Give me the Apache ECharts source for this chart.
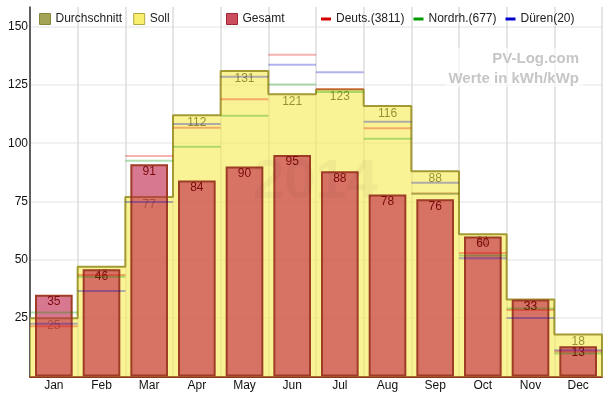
<!DOCTYPE html>
<html>
<head>
<meta charset="utf-8">
<script src="https://cdn.jsdelivr.net/npm/echarts@6/dist/echarts.min.js"></script>
<style>
  html, body { margin: 0; padding: 0; background: #fff; }
  #main { width: 611px; height: 397px; }
</style>
</head>
<body>
<div id="main"></div>
<script>
// Monatswerte 2014 (kWh/kWp)
var months = ["Jan", "Feb", "Mar", "Apr", "May", "Jun", "Jul", "Aug", "Sep", "Oct", "Nov", "Dec"];
var gesamt = [35, 46, 91, 84, 90, 95, 88, 78, 76, 60, 33, 13];
var soll = [25, 47, 77, 112, 131, 121, 123, 116, 88, 61, 33, 18];
var deuts = [21.5, 43.5, 94.5, 106.6, 118.9, 137.9, 123.3, 106.4, 78.5, 52.9, 28.5, 10.7];
var nordrh = [27.4, 42.8, 92.5, 98.5, 111.8, 125.2, 122, 101.9, 78.3, 51.9, 29.2, 9.9];
var dueren = [22.6, 36.6, 74.8, 108.2, 128.5, 133.6, 130.4, 109.2, 83.1, 50.7, 25.1, 11.3];
var yTickStep = 25;

var font = '"Liberation Sans", Arial, sans-serif';

// Soll als Treppe ueber die ganze Monatsbreite
var sollSteps = soll.map(function (v, i) { return [i, v]; });
sollSteps.push([12, soll[soll.length - 1]]);
sollSteps.push([12, 0]);

function pairs(arr) {
  return arr.map(function (v, i) { return [i, v]; });
}

// kurze waagrechte Linie je Monat
function segment(color) {
  return function (params, api) {
    var c = api.coord([api.value(0), api.value(1)]);
    var w = api.size([1, 0])[0];
    return {
      type: "line",
      shape: { x1: c[0] - w / 2, y1: c[1], x2: c[0] + w / 2, y2: c[1] },
      style: { stroke: color, lineWidth: 2 }
    };
  };
}

var myChart = echarts.init(document.getElementById("main"));
var option = {
  animation: false,
  textStyle: { fontFamily: font },
  grid: { left: 30, right: 9, top: 7, bottom: 20.5 },
  legend: [
    {
      left: 34, top: 8, itemWidth: 11, itemHeight: 11, itemGap: 11, icon: "rect",
      textStyle: { color: "#222", fontSize: 12, fontFamily: font },
      data: [
        { name: "Durchschnitt", itemStyle: { color: "#a3a455", borderColor: "#86863c", borderWidth: 1 } },
        { name: "Soll", itemStyle: { color: "#f8ef6e", borderColor: "#b0a840", borderWidth: 1 } }
      ]
    },
    {
      left: 221, top: 8, itemWidth: 11, itemHeight: 11, icon: "rect",
      textStyle: { color: "#222", fontSize: 12, fontFamily: font },
      data: [{ name: "Gesamt", itemStyle: { color: "#cc4d5e", borderColor: "#9a2a38", borderWidth: 1 } }]
    },
    {
      left: 316, top: 8, itemWidth: 10, itemHeight: 3, itemGap: 9, icon: "rect",
      textStyle: { color: "#222", fontSize: 12, fontFamily: font },
      data: ["Deuts.(3811)", "Nordrh.(677)", "Düren(20)"]
    }
  ],
  xAxis: [
    {
      type: "category",
      data: months,
      boundaryGap: true,
      axisLine: { lineStyle: { color: "#8b3a20", width: 2 } },
      axisTick: { show: false },
      axisLabel: { color: "#111", fontSize: 12, margin: 3, interval: 0 },
      splitLine: { show: true, interval: 0, lineStyle: { color: "#dddddd", width: 1.5 } }
    },
    { type: "value", min: 0, max: 12, show: false }
  ],
  yAxis: {
    type: "value",
    min: 0,
    max: 158.4,
    interval: yTickStep,
    axisLine: { show: true, lineStyle: { color: "#333", width: 1.5 } },
    axisTick: { show: false },
    axisLabel: { color: "#111", fontSize: 12, margin: 2, showMinLabel: false, showMaxLabel: false },
    splitLine: { show: true, showMaxLine: false, lineStyle: { color: "#ededed", width: 1.5 } }
  },
  series: [
    {
      name: "Durchschnitt",
      type: "custom",
      data: [],
      itemStyle: { color: "#a3a455" },
      renderItem: function () { return null; }
    },
    {
      name: "Soll",
      type: "line",
      xAxisIndex: 1,
      step: "end",
      symbol: "none",
      z: 1,
      data: sollSteps,
      itemStyle: { color: "#f8ef6e" },
      lineStyle: { color: "#a39a34", width: 2 },
      areaStyle: { color: "#f7eb4e", opacity: 0.6 }
    },
    {
      name: "Soll",
      type: "scatter",
      z: 1,
      symbolSize: 1,
      itemStyle: { color: "rgba(0,0,0,0)" },
      data: soll,
      label: { show: true, position: "bottom", distance: 1, color: "#7d7a1a", fontSize: 12 }
    },
    {
      name: "Gesamt",
      type: "bar",
      z: 2,
      barWidth: "79%",
      data: gesamt,
      itemStyle: { color: "rgba(190,30,70,0.6)", borderColor: "#9e3c26", borderWidth: 2 },
      label: { show: true, position: "insideTop", distance: 1, color: "#7a0a0a", fontSize: 12 }
    },
    {
      name: "Deuts.(3811)",
      type: "custom",
      z: 3,
      itemStyle: { color: "#d40000" },
      data: pairs(deuts),
      renderItem: segment("rgba(230,0,0,0.3)")
    },
    {
      name: "Nordrh.(677)",
      type: "custom",
      z: 3,
      itemStyle: { color: "#009a00" },
      data: pairs(nordrh),
      renderItem: segment("rgba(0,150,0,0.3)")
    },
    {
      name: "Düren(20)",
      type: "custom",
      z: 3,
      itemStyle: { color: "#0000cc" },
      data: pairs(dueren),
      renderItem: segment("rgba(0,0,200,0.3)")
    }
  ],
  graphic: [
    {
      type: "text", left: 253, top: 155, z: 20, silent: true,
      style: { text: "2014", font: "bold 56px " + font, fill: "rgba(0,0,0,0.04)" }
    },
    {
      type: "rect", left: 446, top: 48, z: 20, silent: true,
      shape: { width: 137, height: 39 },
      style: { fill: "rgba(255,255,255,0.6)" }
    },
    {
      type: "text", right: 32, top: 51, z: 21, silent: true,
      style: { text: "PV-Log.com", font: "bold 15px " + font, fill: "#c6c6c6" }
    },
    {
      type: "text", right: 32, top: 71, z: 21, silent: true,
      style: { text: "Werte in kWh/kWp", font: "bold 15px " + font, fill: "#c6c6c6" }
    }
  ]
};
myChart.setOption(option);
</script>
</body>
</html>
